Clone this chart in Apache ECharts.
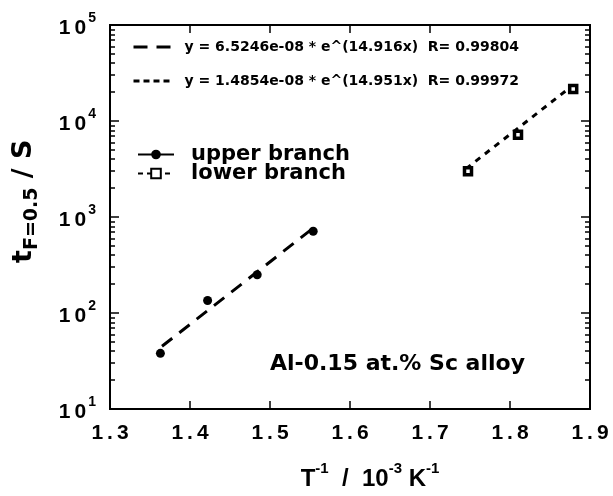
<!DOCTYPE html>
<html><head><meta charset="utf-8">
<script src="https://cdn.jsdelivr.net/npm/echarts@6/dist/echarts.min.js"></script>
<style>html,body{margin:0;padding:0;background:#fff}#c{width:613px;height:496px}</style>
</head><body><div id="c"></div>
<script>
// Data
const upperX = [1.363, 1.422, 1.484, 1.554];
const upperY = [38, 135, 250, 710];
const lowerX = [1.7475, 1.810, 1.879];
const lowerY = [3000, 7200, 21500];
const fitUpperX = [1.365, 1.556];
const fitUpperY = [45, 790];
const fitLowerX = [1.745, 1.875];
const fitLowerY = [3180, 22300];
const xTicks = [1.3, 1.4, 1.5, 1.6, 1.7, 1.8, 1.9];
const yMajor = [10, 100, 1000, 10000, 100000];
const yMinor = [20,30,40,50,60,70,80,90,200,300,400,500,600,700,800,900,2000,3000,4000,5000,6000,7000,8000,9000,20000,30000,40000,50000,60000,70000,80000,90000];
const fitUpperName = 'y = 6.5246e-08 * e^(14.916x)  R= 0.99804';
const fitLowerName = 'y = 1.4854e-08 * e^(14.951x)  R= 0.99972';
const noteText = 'Al-0.15 at.% Sc alloy';

const FONT = 'Liberation Sans';
const WFONT = 'DejaVu Sans';
const zip = (a, b) => a.map((v, i) => [v, b[i]]);
const chart = echarts.init(document.getElementById('c'), null, {renderer: 'canvas'});

function yAxisDef(pos, values, len, labels) {
  return {
    type: 'log', logBase: 10, min: 10, max: 100000, position: pos,
    axisLine: {show: true, onZero: false, lineStyle: {color: '#000', width: 2}},
    axisTick: {show: true, inside: true, length: len, customValues: values, lineStyle: {color: '#000', width: 1.5}},
    splitLine: {show: false},
    axisLabel: labels ? {
      show: true, customValues: yMajor, margin: 14,
      formatter: v => '{b|1}{z|0}{s|' + Math.round(Math.log10(v)) + '}',
      rich: {
        b: {fontFamily: FONT, fontSize: 21, fontWeight: 'bold', color: '#000', verticalAlign: 'bottom', lineHeight: 28},
        z: {fontFamily: FONT, fontSize: 21, fontWeight: 'bold', color: '#000', verticalAlign: 'bottom', lineHeight: 28, padding: [0, 2, 0, 4]},
        s: {fontFamily: FONT, fontSize: 14, fontWeight: 'bold', color: '#000', verticalAlign: 'top', lineHeight: 28}
      }
    } : {show: false}
  };
}

const option = {
  backgroundColor: '#fff',
  animation: false,
  grid: {left: 110, right: 23, top: 25, bottom: 82},
  xAxis: [
    {
      type: 'value', min: 1.3, max: 1.9, interval: 0.1, position: 'bottom',
      axisLine: {onZero: false, lineStyle: {color: '#000', width: 2}},
      axisTick: {inside: true, length: 8, lineStyle: {color: '#000', width: 1.5}},
      splitLine: {show: false},
      axisLabel: {margin: 14,
        formatter: v => { const s = v.toFixed(1).split('.'); return '{d|' + s[0] + '}{p|.}{d|' + s[1] + '}'; },
        rich: {
          d: {fontFamily: FONT, fontSize: 21, fontWeight: 'bold', color: '#000'},
          p: {fontFamily: FONT, fontSize: 21, fontWeight: 'bold', color: '#000', padding: [0, 4, 0, 4]}
        }
      },
      name: '{m|T}{s|-1}{m|  /  10}{s|-3}{m| K}{s|-1}',
      nameLocation: 'middle', nameGap: 52,
      nameTextStyle: {
        padding: [0, 0, 0, 40],
        rich: {
          m: {fontFamily: FONT, fontSize: 24, fontWeight: 'bold', color: '#000', verticalAlign: 'bottom', lineHeight: 30},
          s: {fontFamily: FONT, fontSize: 15, fontWeight: 'bold', color: '#000', verticalAlign: 'top', lineHeight: 30}
        }
      }
    },
    {
      type: 'value', min: 1.3, max: 1.9, interval: 0.1, position: 'top',
      axisLine: {onZero: false, lineStyle: {color: '#000', width: 2}},
      axisTick: {inside: true, length: 8, lineStyle: {color: '#000', width: 1.5}},
      splitLine: {show: false}, axisLabel: {show: false}
    }
  ],
  yAxis: [
    yAxisDef('left', yMajor, 9, true),
    yAxisDef('left', yMinor, 5, false),
    yAxisDef('right', yMajor, 9, false),
    yAxisDef('right', yMinor, 5, false)
  ],
  legend: [
    {
      left: 132, top: 40, padding: 0, orient: 'vertical', itemGap: 20, itemWidth: 37, itemHeight: 14,
      textStyle: {fontFamily: WFONT, fontSize: 14, fontWeight: 'bold', color: '#000', padding: [0, 0, 0, 9]},
      data: [
        {name: fitUpperName, itemStyle: {opacity: 0}, lineStyle: {width: 3, type: [14, 9], color: '#000', opacity: 1}},
        {name: fitLowerName, itemStyle: {opacity: 0}, lineStyle: {width: 3, type: [6, 4], color: '#000', opacity: 1}}
      ]
    },
    {
      left: 137, top: 144, padding: 0, orient: 'vertical', itemGap: -2, itemWidth: 36, itemHeight: 12,
      textStyle: {fontFamily: WFONT, fontSize: 21, fontWeight: 'bold', color: '#000', padding: [0, 0, 0, 12]},
      data: [
        {name: 'upper branch', lineStyle: {width: 2, type: 'solid', color: '#000', opacity: 1}},
        {name: 'lower branch', lineStyle: {width: 2, type: [5, 4], color: '#000', opacity: 1}}
      ]
    }
  ],
  graphic: [
    {
      type: 'text', x: 10, y: 263, rotation: Math.PI / 2,
      style: {
        text: '{m|t}{s|F=0.5}{m| / S}',
        rich: {
          m: {fontFamily: WFONT, fontSize: 27, fontWeight: 'bold', fill: '#000', verticalAlign: 'top', lineHeight: 32},
          s: {fontFamily: WFONT, fontSize: 19, fontWeight: 'bold', fill: '#000', verticalAlign: 'bottom', lineHeight: 32}
        }
      }
    },
    {
      type: 'text', left: 270, top: 353,
      style: {text: noteText, fontFamily: WFONT, fontSize: 22, fontWeight: 'bold', fill: '#000'}
    }
  ],
  series: [
    {
      name: fitUpperName, type: 'line', xAxisIndex: 0, yAxisIndex: 0,
      data: zip(fitUpperX, fitUpperY), symbol: 'none', itemStyle: {color: '#000'},
      lineStyle: {color: '#000', width: 3, type: [13, 9]}, z: 2
    },
    {
      name: fitLowerName, type: 'line', xAxisIndex: 0, yAxisIndex: 0,
      data: zip(fitLowerX, fitLowerY), symbol: 'none', itemStyle: {color: '#000'},
      lineStyle: {color: '#000', width: 3, type: [6, 6]}, z: 2
    },
    {
      name: 'upper branch', type: 'line', xAxisIndex: 0, yAxisIndex: 0,
      data: zip(upperX, upperY), symbol: 'circle', symbolSize: 9,
      itemStyle: {color: '#000'}, lineStyle: {width: 0, color: '#000'}, z: 3
    },
    {
      name: 'lower branch', type: 'line', xAxisIndex: 0, yAxisIndex: 0,
      data: zip(lowerX, lowerY), symbol: 'rect', symbolSize: 7,
      itemStyle: {color: '#fff', borderColor: '#000', borderWidth: 3.5}, lineStyle: {width: 0, color: '#000'}, z: 3
    }
  ]
};
chart.setOption(option);
</script>
</body></html>
